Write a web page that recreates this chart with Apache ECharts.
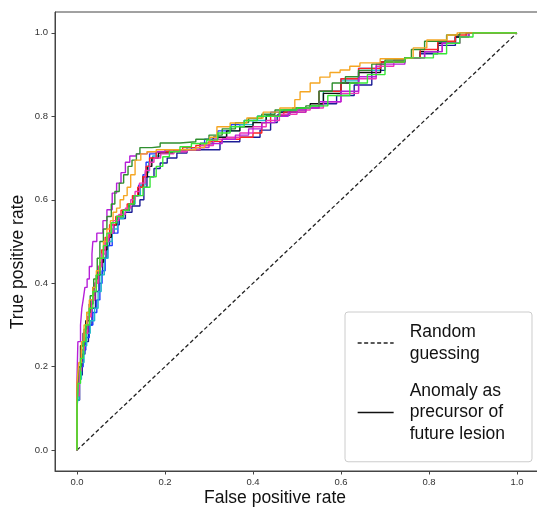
<!DOCTYPE html>
<html><head><meta charset="utf-8">
<script src="https://cdn.jsdelivr.net/npm/echarts@6/dist/echarts.min.js"></script>
<style>html,body{margin:0;padding:0;background:#fff}#c{width:537px;height:512px}</style>
</head><body><div id="c"></div>
<script>
const tickValues = [0, 0.2, 0.4, 0.6, 0.8, 1.0];
const randomLine = [[0,0],[1,1]];
const orange = [[0,0],[0,.16],[.004,.21],[.01,.26],[.016,.3],[.022,.33],[.028,.36],[.036,.39],[.044,.43],[.052,.46],[.06,.5],[.068,.53],[.076,.55],[.082,.57],[.09,.58],[.098,.6],[.106,.61],[.114,.63],[.122,.66],[.132,.695],[.145,.71],[.159,.715],[.18,.72],[.21,.72],[.24,.72],[.27,.725],[.29,.735],[.302,.75],[.318,.775],[.348,.784],[.386,.796],[.423,.81],[.461,.82],[.484,.82],[.495,.84],[.507,.859],[.53,.88],[.552,.894],[.575,.905],[.598,.911],[.62,.92],[.643,.928],[.689,.938],[.741,.94],[.764,.964],[.795,.983],[.841,.995],[.864,1],[1,1]];
const darkGreen = [[0,0],[0,.14],[.004,.2],[.01,.25],[.016,.29],[.022,.33],[.03,.37],[.038,.41],[.046,.46],[.052,.5],[.06,.53],[.068,.56],[.078,.59],[.086,.62],[.096,.64],[.106,.66],[.116,.68],[.125,.695],[.135,.71],[.143,.725],[.17,.727],[.189,.736],[.234,.739],[.27,.745],[.3,.755],[.33,.77],[.36,.785],[.39,.795],[.42,.805],[.45,.815],[.49,.82],[.52,.825],[.55,.86],[.58,.88],[.61,.895],[.64,.91],[.67,.925],[.7,.935],[.745,.94],[.76,.96],[.79,.98],[.84,.995],[.87,1],[1,1]];
const purple = [[0,0],[0,.17],[.002,.26],[.008,.3],[.011,.34],[.014,.36],[.018,.39],[.023,.41],[.028,.44],[.034,.47],[.036,.5],[.045,.52],[.059,.55],[.068,.576],[.08,.616],[.09,.64],[.1,.665],[.11,.69],[.12,.705],[.135,.71],[.16,.715],[.2,.72],[.24,.72],[.27,.725],[.3,.735],[.33,.745],[.36,.755],[.39,.77],[.42,.785],[.45,.8],[.48,.81],[.52,.82],[.55,.835],[.6,.86],[.64,.895],[.68,.925],[.745,.94],[.79,.955],[.83,.975],[.87,.99],[.89,1],[1,1]];
const magenta = [[0,0],[0,.13],[.005,.19],[.01,.24],[.016,.28],[.024,.32],[.032,.36],[.04,.4],[.048,.44],[.056,.47],[.064,.5],[.072,.52],[.082,.55],[.095,.565],[.11,.58],[.122,.6],[.132,.62],[.142,.64],[.155,.67],[.165,.69],[.175,.7],[.19,.71],[.22,.715],[.25,.72],[.28,.73],[.31,.745],[.34,.75],[.37,.76],[.4,.775],[.43,.79],[.46,.805],[.5,.815],[.53,.82],[.56,.835],[.6,.855],[.64,.89],[.68,.92],[.72,.935],[.745,.94],[.79,.955],[.83,.975],[.87,.99],[.89,1],[1,1]];
const navy = [[0,0],[0,.12],[.006,.18],[.012,.23],[.018,.26],[.026,.3],[.034,.34],[.042,.38],[.05,.42],[.058,.46],[.066,.49],[.074,.52],[.084,.54],[.096,.555],[.11,.57],[.125,.585],[.143,.6],[.152,.63],[.159,.655],[.175,.675],[.189,.688],[.205,.7],[.227,.712],[.25,.72],[.325,.72],[.325,.739],[.37,.75],[.416,.767],[.44,.785],[.455,.803],[.484,.815],[.52,.82],[.55,.83],[.59,.85],[.63,.875],[.67,.91],[.7,.93],[.745,.94],[.78,.95],[.82,.97],[.86,.99],[.89,1],[1,1]];
const blue = [[0,0],[0,.1],[.004,.16],[.008,.2],[.014,.24],[.02,.27],[.028,.3],[.036,.33],[.045,.36],[.052,.4],[.057,.43],[.064,.46],[.07,.49],[.08,.52],[.093,.56],[.105,.575],[.118,.59],[.13,.61],[.14,.635],[.15,.66],[.157,.69],[.165,.71],[.18,.715],[.2,.72],[.23,.72],[.26,.725],[.29,.745],[.32,.765],[.35,.78],[.38,.79],[.41,.8],[.44,.81],[.47,.815],[.52,.82],[.55,.86],[.6,.89],[.64,.915],[.69,.93],[.745,.94],[.78,.955],[.82,.975],[.86,.99],[.885,1],[1,1]];
const red = [[0,0],[0,.15],[.004,.2],[.01,.24],[.016,.28],[.024,.32],[.032,.36],[.04,.4],[.048,.44],[.056,.48],[.064,.51],[.074,.54],[.088,.56],[.1,.575],[.114,.59],[.126,.61],[.138,.63],[.15,.655],[.157,.68],[.165,.7],[.18,.715],[.21,.72],[.24,.725],[.27,.73],[.3,.74],[.33,.745],[.37,.75],[.4,.76],[.42,.785],[.44,.8],[.47,.81],[.52,.82],[.55,.86],[.6,.89],[.64,.915],[.69,.93],[.745,.94],[.78,.96],[.82,.98],[.86,.995],[.885,1],[1,1]];
const cyan = [[0,0],[0,.12],[.005,.17],[.01,.21],[.016,.25],[.022,.28],[.03,.31],[.04,.34],[.048,.38],[.055,.42],[.062,.46],[.07,.5],[.08,.53],[.092,.555],[.106,.575],[.12,.59],[.132,.61],[.144,.635],[.155,.665],[.163,.69],[.172,.705],[.19,.715],[.22,.72],[.25,.725],[.28,.735],[.31,.75],[.34,.765],[.37,.78],[.4,.79],[.43,.8],[.46,.81],[.5,.82],[.53,.825],[.56,.86],[.6,.885],[.64,.91],[.69,.93],[.745,.94],[.78,.955],[.82,.975],[.86,.99],[.885,1],[1,1]];
const anomaly = [[0,0],[0,.14],[.003,.2],[.008,.25],[.014,.28],[.02,.31],[.028,.35],[.036,.39],[.044,.42],[.052,.45],[.06,.48],[.068,.51],[.078,.54],[.09,.56],[.104,.575],[.118,.59],[.13,.61],[.14,.63],[.15,.655],[.16,.68],[.17,.7],[.185,.712],[.22,.72],[.25,.72],[.28,.735],[.31,.75],[.34,.765],[.37,.775],[.4,.785],[.43,.8],[.46,.81],[.5,.82],[.53,.83],[.56,.855],[.6,.88],[.64,.905],[.69,.93],[.745,.94],[.78,.955],[.82,.975],[.86,.99],[.89,1],[1,1]];
const lime = [[0,0],[0,.1],[.003,.16],[.008,.22],[.014,.26],[.02,.3],[.028,.34],[.036,.38],[.044,.42],[.052,.46],[.06,.49],[.068,.52],[.078,.545],[.09,.56],[.105,.575],[.118,.59],[.13,.61],[.15,.63],[.166,.655],[.18,.68],[.195,.703],[.21,.715],[.234,.727],[.26,.735],[.295,.743],[.32,.76],[.348,.775],[.38,.79],[.41,.8],[.461,.815],[.5,.82],[.53,.825],[.57,.85],[.62,.88],[.66,.9],[.7,.93],[.745,.94],[.79,.94],[.81,.95],[.84,.975],[.87,.99],[.9,1],[1,1]];

const RANDOM_NAME = 'Random guessing';
const ANOMALY_NAME = 'Anomaly as precursor of future lesion';
const legendText = {};
legendText[RANDOM_NAME] = 'Random\nguessing';
legendText[ANOMALY_NAME] = 'Anomaly as\nprecursor of\nfuture lesion';

const curves = [
  {name:'run navy', data:navy, color:'#1c1c96'},
  {name:'run blue', data:blue, color:'#1f3bff'},
  {name:'run cyan', data:cyan, color:'#1fb8c8'},
  {name:ANOMALY_NAME, data:anomaly, color:'#111111'},
  {name:'run red', data:red, color:'#ff2424'},
  {name:'run magenta', data:magenta, color:'#ee34b8'},
  {name:'run purple', data:purple, color:'#b61ed8'},
  {name:'run dark green', data:darkGreen, color:'#2f8f2f'},
  {name:'run orange', data:orange, color:'#f5a623'},
  {name:'run lime', data:lime, color:'#37e637'}
];

const FONT = '"Liberation Sans", Arial, sans-serif';
const series = [{
  name: RANDOM_NAME, type:'line', data: randomLine, symbol:'none',
  lineStyle:{color:'#222', width:1.3, type:[4,2.5]}, itemStyle:{color:'#222'}, z:1
}];
curves.forEach(c => series.push({
  name:c.name, type:'line', data:c.data, symbol:'none', step:'end',
  lineStyle:{color:c.color, width:1.4}, itemStyle:{color:c.color}, z:2
}));

const axisCommon = {
  type:'value', min:-0.05, max:1.05,
  splitLine:{show:false},
  axisLine:{show:true, onZero:false, lineStyle:{color:'#444', width:1}},
  axisTick:{show:true, length:3.5, customValues:tickValues, lineStyle:{color:'#444'}},
  axisLabel:{customValues:tickValues, formatter:v=>v.toFixed(1), fontSize:9.5, color:'#333', fontFamily:FONT},
  nameLocation:'middle',
  nameMoveOverlap:false,
  nameTextStyle:{fontSize:17.5, color:'#111', fontFamily:FONT}
};

const chart = echarts.init(document.getElementById('c'), null, {renderer:'canvas'});
chart.setOption({
  animation:false,
  backgroundColor:'#fff',
  grid:{left:55, top:12, width:484, height:459, containLabel:false, outerBoundsMode:'none',
        show:true, borderColor:'#444', borderWidth:1, backgroundColor:'transparent'},
  xAxis: Object.assign({}, axisCommon, {
    name:'False positive rate', nameGap:18,
    axisLabel: Object.assign({}, axisCommon.axisLabel, {margin:6}),
    nameTextStyle: Object.assign({}, axisCommon.nameTextStyle, {padding:[0,44,0,0]})
  }),
  yAxis: Object.assign({}, axisCommon, {
    name:'True positive rate', nameGap:28,
    axisLabel: Object.assign({}, axisCommon.axisLabel, {margin:7}),
    nameTextStyle: Object.assign({}, axisCommon.nameTextStyle, {padding:[0,41,0,0]})
  }),
  legend:{
    data:[RANDOM_NAME, ANOMALY_NAME],
    orient:'vertical', left:345, top:312,
    itemWidth:36, itemHeight:10, itemGap:15.75,
    padding:[9.5,27,17,12],
    backgroundColor:'#fff', borderColor:'#cccccc', borderWidth:1, borderRadius:3,
    itemStyle:{opacity:0},
    lineStyle:{width:1.3},
    formatter: n => legendText[n],
    textStyle:{fontSize:17.5, lineHeight:21.5, color:'#111', fontFamily:FONT, padding:[0,0,0,11]},
    selectedMode:false
  },
  series: series
});
</script></body></html>
